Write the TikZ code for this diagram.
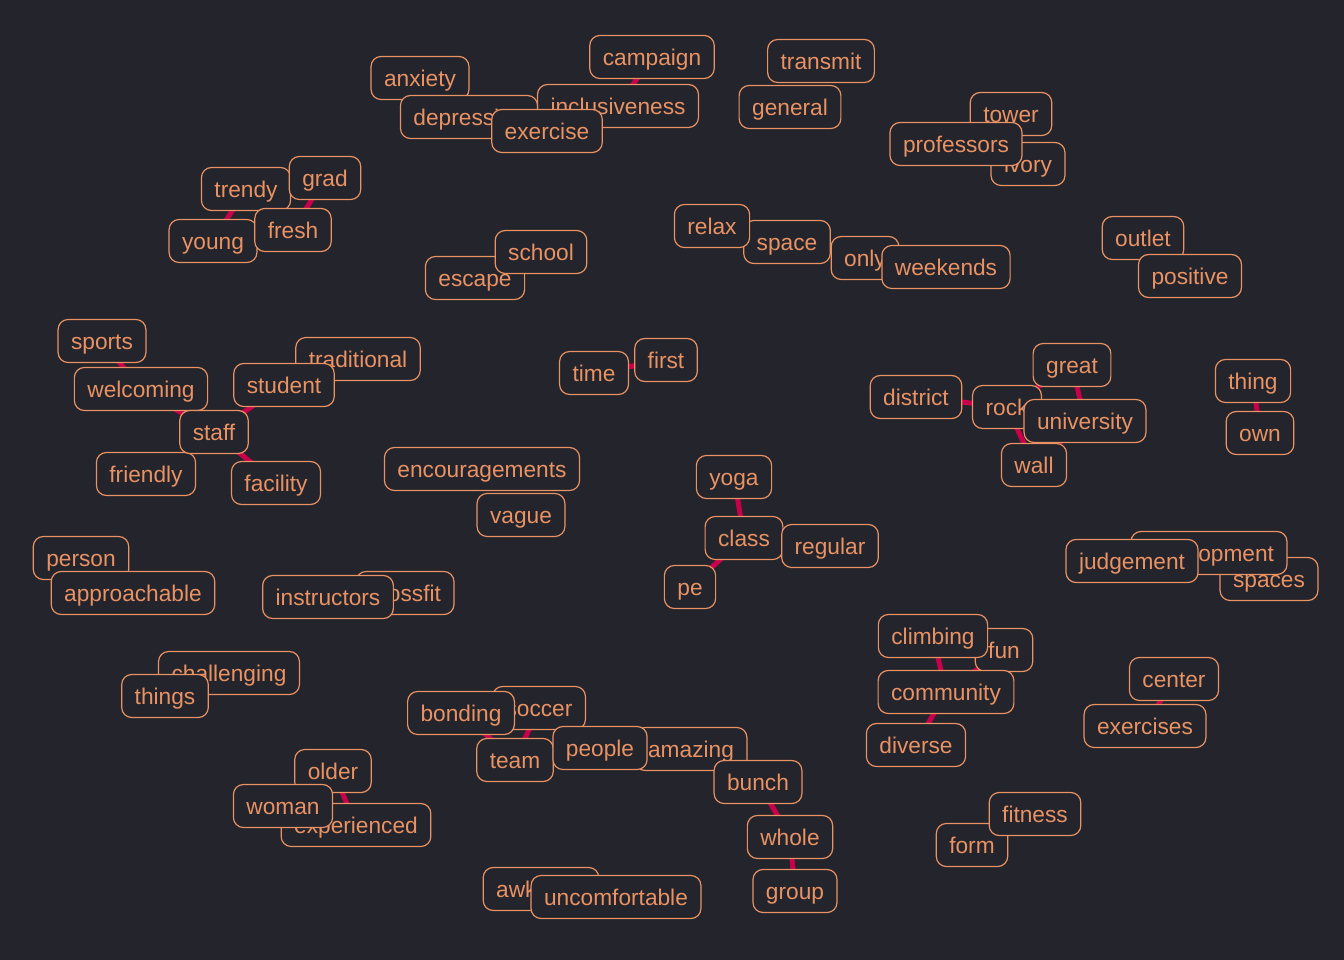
\documentclass[tikz,border=0pt]{standalone}
\usepackage{fontspec}
\setmainfont{Liberation Sans}
\definecolor{bg}{HTML}{23242C}
\definecolor{wc}{HTML}{E99264}
\definecolor{ec}{HTML}{C8004A}
\pgfdeclarelayer{bgl}
\pgfdeclarelayer{edgel}
\pgfsetlayers{bgl,edgel,main}
\newcommand{\wordfont}{\fontsize{22.7}{26}\selectfont}
\tikzset{
  w/.style={draw=wc, text=wc, fill=bg, rounded corners=10pt, line width=1.2pt,
    inner xsep=13pt, inner ysep=0pt, minimum height=43pt,
    text height=21pt, text depth=4pt, font=\wordfont},
  edge/.style={draw=ec, line width=5pt}
}
\begin{document}
\begin{tikzpicture}[x=1pt,y=-1pt]
\begin{pgfonlayer}{bgl}
\fill[bg] (0,0) rectangle (1344,960);
\end{pgfonlayer}
\useasboundingbox (0,0) rectangle (1344,960);
% nodes (drawing order matters)
\node[w] (anxiety) at (420,78) {anxiety};
\node[w] (inclusiveness) at (618,106) {inclusiveness};
\node[w] (depression) at (469,117) {depression};
\node[w] (exercise) at (547,131) {exercise};
\node[w] (campaign) at (652,57) {campaign};
\node[w] (transmit) at (821,61) {transmit};
\node[w] (general) at (790,107) {general};
\node[w] (tower) at (1011,114) {tower};
\node[w] (ivory) at (1028,164) {ivory};
\node[w] (professors) at (956,144) {professors};
\node[w] (trendy) at (246,189) {trendy};
\node[w] (grad) at (325,178) {grad};
\node[w] (young) at (213,241) {young};
\node[w] (fresh) at (293,230) {fresh};
\node[w] (escape) at (475,278) {escape};
\node[w] (school) at (541,252) {school};
\node[w] (space) at (787,242) {space};
\node[w] (relax) at (712,226) {relax};
\node[w] (only) at (865,258) {only};
\node[w] (weekends) at (946,267) {weekends};
\node[w] (outlet) at (1143,238) {outlet};
\node[w] (positive) at (1190,276) {positive};
\node[w] (sports) at (102,341) {sports};
\node[w] (welcoming) at (141,389) {welcoming};
\node[w] (traditional) at (358,359) {traditional};
\node[w] (student) at (284,385) {student};
\node[w] (friendly) at (146,474) {friendly};
\node[w] (staff) at (214,432) {staff};
\node[w] (facility) at (276,483) {facility};
\node[w] (time) at (594,373) {time};
\node[w] (first) at (666,360) {first};
\node[w] (encouragements) at (482,469) {encouragements};
\node[w] (vague) at (521,515) {vague};
\node[w] (district) at (916,397) {district};
\node[w] (great) at (1072,365) {great};
\node[w] (rock) at (1007,407) {rock};
\node[w] (university) at (1085,421) {university};
\node[w] (wall) at (1034,465) {wall};
\node[w] (thing) at (1253,381) {thing};
\node[w] (own) at (1260,433) {own};
\node[w] (yoga) at (734,477) {yoga};
\node[w] (class) at (744,538) {class};
\node[w] (regular) at (830,546) {regular};
\node[w] (pe) at (690,587) {pe};
\node[w] (spaces) at (1269,579) {spaces};
\node[w] (development) at (1209,553) {development};
\node[w] (judgement) at (1132,561) {judgement};
\node[w] (person) at (81,558) {person};
\node[w] (approachable) at (133,593) {approachable};
\node[w] (crossfit) at (405,593) {crossfit};
\node[w] (instructors) at (328,597) {instructors};
\node[w] (challenging) at (229,673) {challenging};
\node[w] (things) at (165,696) {things};
\node[w] (fun) at (1004,650) {fun};
\node[w] (climbing) at (933,636) {climbing};
\node[w] (community) at (946,692) {community};
\node[w] (diverse) at (916,745) {diverse};
\node[w] (center) at (1174,679) {center};
\node[w] (exercises) at (1145,726) {exercises};
\node[w] (soccer) at (539,708) {soccer};
\node[w] (bonding) at (461,713) {bonding};
\node[w] (team) at (515,760) {team};
\node[w] (amazing) at (691,749) {amazing};
\node[w] (people) at (600,748) {people};
\node[w] (bunch) at (758,782) {bunch};
\node[w] (whole) at (790,837) {whole};
\node[w] (group) at (795,891) {group};
\node[w] (older) at (333,771) {older};
\node[w] (experienced) at (356,825) {experienced};
\node[w] (woman) at (283,806) {woman};
\node[w] (awkward) at (541,889) {awkward};
\node[w] (uncomfortable) at (616,897) {uncomfortable};
\node[w] (form) at (972,845) {form};
\node[w] (fitness) at (1035,814) {fitness};
% edges
\begin{pgfonlayer}{edgel}
\draw[edge] (campaign.center) -- (inclusiveness.center);
\draw[edge] (trendy.center) -- (young.center);
\draw[edge] (grad.center) -- (fresh.center);
\draw[edge] (sports.center) -- (welcoming.center);
\draw[edge] (welcoming.center) -- (staff.center);
\draw[edge] (student.center) -- (staff.center);
\draw[edge] (staff.center) -- (facility.center);
\draw[edge] (time.center) -- (first.center);
\draw[edge] (district.center) -- (rock.center);
\draw[edge] (rock.center) -- (great.center);
\draw[edge] (great.center) -- (university.center);
\draw[edge] (rock.center) -- (wall.center);
\draw[edge] (university.center) -- (wall.center);
\draw[edge] (thing.center) -- (own.center);
\draw[edge] (yoga.center) -- (class.center);
\draw[edge] (class.center) -- (pe.center);
\draw[edge] (climbing.center) -- (community.center);
\draw[edge] (fun.center) -- (community.center);
\draw[edge] (community.center) -- (diverse.center);
\draw[edge] (center.center) -- (exercises.center);
\draw[edge] (bonding.center) -- (team.center);
\draw[edge] (soccer.center) -- (team.center);
\draw[edge] (bunch.center) -- (whole.center);
\draw[edge] (whole.center) -- (group.center);
\draw[edge] (older.center) -- (experienced.center);
\end{pgfonlayer}
\end{tikzpicture}
\end{document}
